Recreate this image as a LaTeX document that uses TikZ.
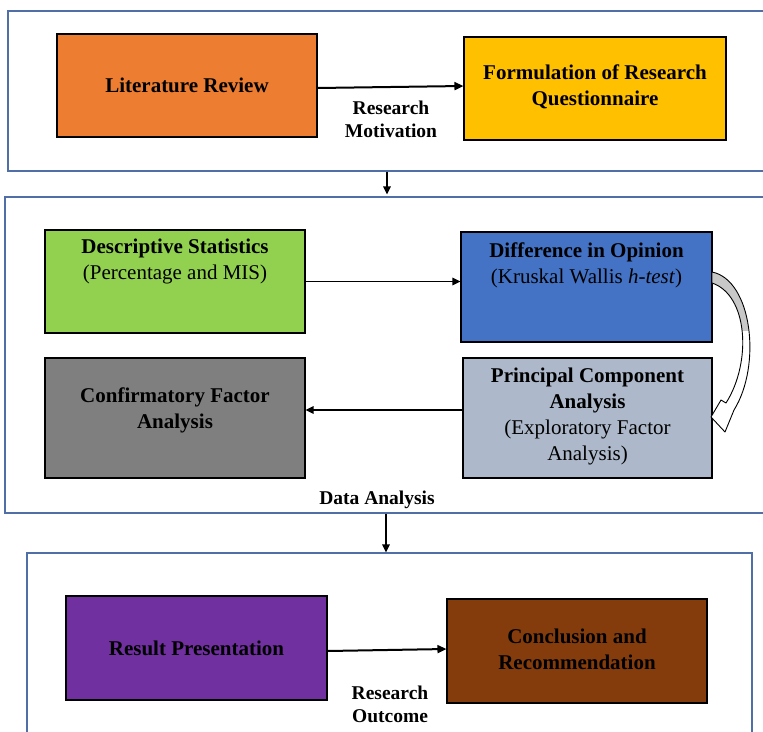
\documentclass[tikz,border=0pt]{standalone}
\usepackage{fontspec}
\setmainfont{Liberation Serif}
\usetikzlibrary{arrows.meta,calc}
\definecolor{cOrange}{HTML}{ED7D31}
\definecolor{cGold}{HTML}{FFC000}
\definecolor{cGreen}{HTML}{92D050}
\definecolor{cBlue}{HTML}{4472C4}
\definecolor{cSlate}{HTML}{ADB9CA}
\definecolor{cGray}{HTML}{7F7F7F}
\definecolor{cPurple}{HTML}{7030A0}
\definecolor{cBrown}{HTML}{843C0C}
\definecolor{cFrame}{HTML}{4F6FA6}
\definecolor{cBandGray}{HTML}{C8C8C8}
\newcommand\myCurvedArrowPath{(712,272) .. controls (752,280) and (762,365) .. (734,410) -- (725,432) -- (711,417) -- (721,400) -- (726,403) .. controls (752,362) and (748,295) .. (712,283) -- cycle}
\begin{document}
\begin{tikzpicture}[x=1pt,y=-1pt,
  frame/.style={draw=cFrame, line width=1.3pt, rectangle, inner sep=0},
  box/.style={draw=black, line width=1.1pt, rectangle, inner sep=0},
  txt/.style={font=\fontsize{21}{26}\selectfont, align=center, inner sep=0},
  lab/.style={font=\fontsize{19.5}{23}\selectfont\bfseries, align=center, inner sep=0},
  conn/.style={draw=black, line width=1.5pt, -{Triangle[length=8pt,width=7.5pt]}},
  thickconn/.style={draw=black, line width=2pt, -{Triangle[length=9pt,width=8pt]}}]
\useasboundingbox (0,0) rectangle (763,731);
% frames
\node[frame, minimum width=758pt, minimum height=160pt] (f1) at (387,91) {};
\node[frame, minimum width=764pt, minimum height=316pt] (f2) at (387,355) {};
\node[frame, minimum width=725pt, minimum height=192pt] (f3) at (389.5,649) {};
% top row
\node[box, fill=cOrange, minimum width=260pt, minimum height=103pt] (lit) at (187,85.5) {};
\node[txt, font=\fontsize{21}{26}\selectfont\bfseries] (littxt) at (lit.center) {Literature Review};
\node[box, fill=cGold, minimum width=262pt, minimum height=103pt] (form) at (595,88.5) {};
\node[txt, font=\fontsize{21}{26}\selectfont\bfseries] (formtxt) at ($(form.center)+(0,-1.5)$) {Formulation of Research\\Questionnaire};
\draw[thickconn] ([yshift=-2.5pt]lit.east) -- ([yshift=2.5pt]form.west);
\node[lab] (rm) at (391,119.5) {Research\\Motivation};
% middle
\node[box, fill=cGreen, minimum width=260pt, minimum height=103pt] (desc) at (175,281.5) {};
\node[txt] (desctxt) at ($(desc.center)+(0,-20)$) {\textbf{Descriptive Statistics}\\(Percentage and MIS)};
\node[box, fill=cBlue, minimum width=251pt, minimum height=110pt] (diff) at (586.5,287) {};
\node[txt] (difftxt) at ($(diff.center)+(0,-21.5)$) {\textbf{Difference in Opinion}\\(Kruskal Wallis \textit{h-test})};
\node[box, fill=cSlate, minimum width=249pt, minimum height=120pt] (pca) at (587.5,418) {};
\node[txt] (pcatxt) at ($(pca.center)+(0,-2)$) {\textbf{Principal Component}\\\textbf{Analysis}\\(Exploratory Factor\\Analysis)};
\node[box, fill=cGray, minimum width=260pt, minimum height=120pt] (cfa) at (175,418) {};
\node[txt, font=\fontsize{21}{26}\selectfont\bfseries] (cfatxt) at ($(cfa.center)+(0,-8)$) {Confirmatory Factor\\Analysis};
\draw[conn] (desc.east) -- (desc.east -| diff.west);
\draw[conn] ([yshift=8pt]pca.west) -- ([yshift=8pt]pca.west -| cfa.east);
% curved block arrow from diff to pca
\fill[white] \myCurvedArrowPath;
\begin{scope}
  \clip (700,260) rectangle (770,330);
  \fill[cBandGray] \myCurvedArrowPath;
\end{scope}
\draw[black, line width=0.9pt, line join=round] \myCurvedArrowPath;
\node[lab] (da) at (377,500) {Data Analysis};
% bottom
\node[box, fill=cPurple, minimum width=261pt, minimum height=104pt] (res) at (196.5,648) {};
\node[txt, font=\fontsize{21}{26}\selectfont\bfseries] (restxt) at (res.center) {Result Presentation};
\node[box, fill=cBrown, minimum width=260pt, minimum height=104pt] (conc) at (577,651) {};
\node[txt, font=\fontsize{21}{26}\selectfont\bfseries] (conctxt) at ($(conc.center)+(0,-1.5)$) {Conclusion and\\Recommendation};
\draw[thickconn] ([yshift=-3pt]res.east) -- ([yshift=2pt]conc.west);
\node[lab] (ro) at (390,704) {Research\\Outcome};
% frame connectors
\draw[conn] (f1.south) -- ([yshift=2pt]f2.north);
\draw[conn] ([xshift=-1pt]f2.south) -- ([xshift=-1pt]f2.south |- f3.north);
\end{tikzpicture}
\end{document}
